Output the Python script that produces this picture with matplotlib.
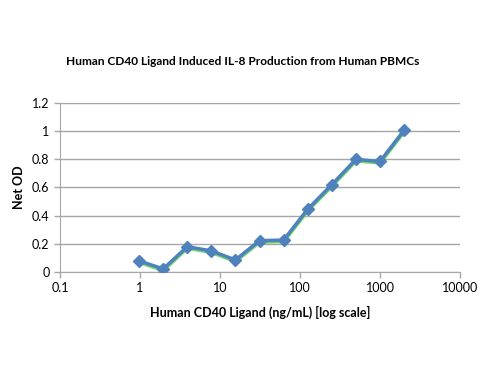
import matplotlib
matplotlib.use("Agg")
import matplotlib.pyplot as plt
from matplotlib.ticker import FixedLocator, FixedFormatter, NullLocator

plt.rcParams['font.family'] = ['Lato', 'DejaVu Sans']

# ligand concentration (ng/mL), 2-fold dilutions from 2000
conc = [0.98, 1.95, 3.9, 7.8, 15.6, 31.25, 62.5, 125, 250, 500, 1000, 2000]
od_blue = [0.078, 0.021, 0.179, 0.149, 0.085, 0.222, 0.226, 0.446, 0.620, 0.800, 0.785, 1.007]
od_green = [0.070, 0.013, 0.171, 0.141, 0.077, 0.214, 0.218, 0.438, 0.612, 0.792, 0.777, 0.999]

xticks = [0.1, 1, 10, 100, 1000, 10000]
xtick_labels = ["0.1", "1", "10", "100", "1000", "10000"]
yticks = [0, 0.2, 0.4, 0.6, 0.8, 1.0, 1.2]
ytick_labels = ["0", "0.2", "0.4", "0.6", "0.8", "1", "1.2"]

fig = plt.figure(figsize=(5, 3.75), dpi=100)
ax = fig.add_axes([0.12, 0.275, 0.80, 0.45])

ax.plot(conc, od_green, color="#66d96a", lw=3, solid_joinstyle="round", zorder=2)
ax.plot(conc, od_blue, color="#4f81bd", lw=2.5, marker="D", ms=6,
        markeredgecolor="#4f81bd", zorder=3)

ax.set_xscale("log")
ax.set_xlim(0.1, 10000)
ax.set_ylim(0, 1.2)
ax.xaxis.set_major_locator(FixedLocator(xticks))
ax.xaxis.set_major_formatter(FixedFormatter(xtick_labels))
ax.xaxis.set_minor_locator(NullLocator())
ax.yaxis.set_major_locator(FixedLocator(yticks))
ax.yaxis.set_major_formatter(FixedFormatter(ytick_labels))

ax.grid(axis="y", color="#a6a6a6", lw=1)
ax.set_axisbelow(True)
for s in ["top", "right"]:
    ax.spines[s].set_visible(False)
for s in ["left", "bottom"]:
    ax.spines[s].set_color("#a6a6a6")
ax.tick_params(axis="both", colors="#a6a6a6", labelcolor="black", labelsize=9,
               length=4, width=1)

ax.set_xlabel("Human CD40 Ligand (ng/mL) [log scale]", fontsize=9, fontweight="bold", labelpad=8)
ax.set_ylabel("Net OD", fontsize=9, fontweight="bold", labelpad=5)
fig.text(0.486, 0.835, "Human CD40 Ligand Induced IL-8 Production from Human PBMCs",
         ha="center", va="center", fontsize=8.6, fontweight="bold")

fig.savefig("out.png", dpi=100)
